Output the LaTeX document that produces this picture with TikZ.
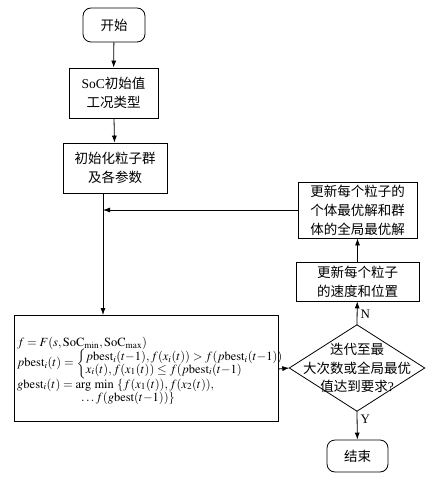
\documentclass[tikz,border=0pt]{standalone}
\usepackage{mathptmx}
\usepackage{fontspec}
\setmainfont{Liberation Serif}
\newfontfamily\cjk{Noto Sans CJK SC}
\usetikzlibrary{shapes.geometric,arrows.meta}
\begin{document}
\begin{tikzpicture}[x=1pt,y=-1pt,
  box/.style={draw,line width=0.8pt,align=center,inner sep=0pt,font=\cjk\fontsize{13.5}{19}\selectfont},
  term/.style={box,rounded corners=8pt},
  arr/.style={line width=0.8pt,-{Latex[length=7pt,width=5pt]}},
  lbl/.style={font=\fontsize{13}{15}\selectfont,inner sep=0pt}]
\useasboundingbox (0,0) rectangle (438,481);
\node[term,minimum width=62pt,minimum height=34pt] (start) at (114,25) {开始};
\node[box,minimum width=89pt,minimum height=50pt] (init) at (113.5,93) {{\fontspec{Liberation Serif}SoC}初始值\\工况类型};
\node[box,minimum width=104pt,minimum height=50pt] (swarm) at (115,168) {初始化粒子群\\及各参数};
\draw[line width=0.8pt] (14,315) rectangle (278,421);
\coordinate (ftop) at (103,315);
\coordinate (fright) at (278,369);
\coordinate (sbot) at (103,193);
\coordinate (join) at (103,210);
\node[anchor=north west,inner sep=0pt,align=left,font=\fontsize{12.5}{13}\selectfont] (formula) at (17,337) {%
$f = F(s,\mathrm{SoC}_{\min},\mathrm{SoC}_{\max})$\\[-2pt]
$p\mathrm{best}_i(t) = \renewcommand{\arraystretch}{0.85}\left\{\begin{array}{@{}l@{}}p\mathrm{best}_i(t{-}1),f(x_i(t)) > f(p\mathrm{best}_i(t{-}1))\\ x_i(t),f(x_1(t)) \le f(p\mathrm{best}_i(t{-}1)\end{array}\right.$\\[-1pt]
$g\mathrm{best}_i(t) = \mathrm{arg\ min}\ \{f(x_1(t)),f(x_2(t)),$\\
\hspace*{64pt}$\ldots f(g\mathrm{best}(t{-}1))\}$};
\node[minimum width=135pt,minimum height=86pt,inner sep=0pt,align=center,font=\cjk\fontsize{13.5}{18.5}\selectfont] (dec) at (357,368) {迭代至最\\大次数或全局最优\\值达到要求{\fontspec{Liberation Serif}?}};
\draw[line width=0.8pt] (dec.north) -- (dec.east) -- (dec.south) -- (dec.west) -- cycle;
\node[term,minimum width=61pt,minimum height=32pt] (end) at (357.5,456) {结束};
\node[box,minimum width=123pt,minimum height=39pt] (speed) at (357.5,281.5) {更新每个粒子\\的速度和位置};
\node[box,minimum width=119pt,minimum height=56pt] (best) at (357.5,210) {更新每个粒子的\\个体最优解和群\\体的全局最优解};
\draw[arr] (start) -- (init);
\draw[arr] (init) -- (swarm);
\draw[arr] (sbot) -- (ftop);
\draw[arr] (fright) -- (dec.west);
\draw[arr] (dec.south) -- node[lbl,right,pos=0.3,xshift=3pt] (ylbl) {Y} (end);
\draw[arr] (dec.north) -- node[lbl,right,pos=0.45,xshift=3pt] (nlbl) {N} (speed);
\draw[arr] (speed) -- (best);
\draw[arr] (best.west) -- (join);
\end{tikzpicture}
\end{document}
